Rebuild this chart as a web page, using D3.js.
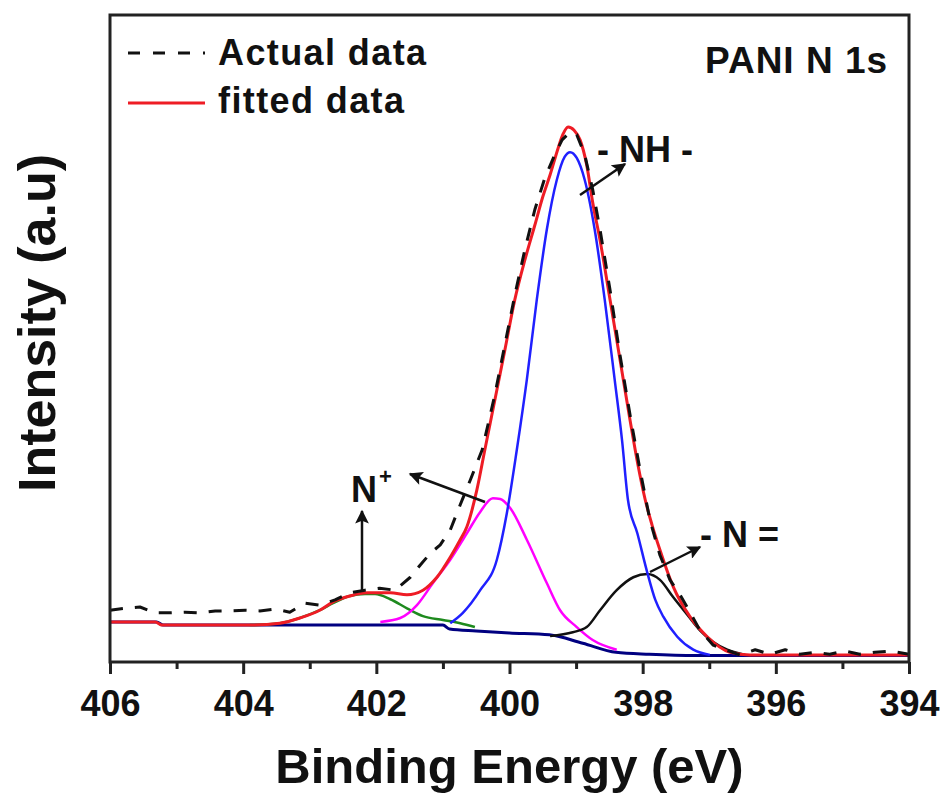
<!DOCTYPE html>
<html>
<head>
<meta charset="utf-8">
<script src="https://cdn.jsdelivr.net/npm/d3@7"></script>
<style>
  html, body { margin: 0; padding: 0; background: #fff; }
  text { font-family: "Liberation Sans", Arial, sans-serif; font-weight: bold; fill: #111; }
</style>
</head>
<body>
<svg id="chart" width="946" height="797"></svg>
<script>
// -------------------- DATA -------------------- //
// binding energy (eV) / intensity (a.u.) for each trace
const actualEV = [406.0, 405.77, 405.55, 405.32, 405.1, 404.87, 404.65, 404.42, 404.2, 403.97, 403.75, 403.52, 403.3, 403.07, 402.85, 402.62, 402.4, 402.17, 401.95, 401.72, 401.49, 401.34, 401.19, 401.04, 400.89, 400.74, 400.59, 400.41, 400.22, 400.07, 399.92, 399.77, 399.62, 399.47, 399.32, 399.21, 399.09, 398.99, 398.87, 398.75, 398.64, 398.49, 398.34, 398.19, 398.04, 397.89, 397.74, 397.59, 397.44, 397.29, 397.14, 396.94, 396.76, 396.54, 396.31, 396.09, 395.86, 395.64, 395.41, 395.19, 394.96, 394.74, 394.51, 394.28, 394.0];
const actualI = [8.0, 8.3, 8.5, 7.6, 7.6, 7.7, 7.6, 7.9, 7.9, 8.0, 7.9, 8.2, 7.7, 9.1, 8.8, 9.6, 10.7, 11.1, 11.4, 11.1, 13.1, 15.0, 16.8, 18.1, 20.4, 24.3, 28.1, 32.8, 41.3, 49.0, 56.7, 63.7, 69.9, 74.8, 78.4, 80.7, 81.9, 81.5, 78.4, 73.0, 66.8, 57.5, 47.4, 38.2, 29.7, 21.9, 16.5, 12.7, 10.4, 7.7, 4.9, 2.6, 1.9, 1.1, 1.9, 1.2, 1.9, 1.2, 1.5, 1.2, 1.7, 1.2, 1.5, 1.7, 1.2];

const fitEV = [406.0, 405.32, 405.22, 403.97, 403.45, 403.15, 402.85, 402.65, 402.4, 402.14, 401.79, 401.54, 401.3, 401.09, 400.89, 400.74, 400.64, 400.49, 400.37, 400.22, 400.07, 399.92, 399.77, 399.62, 399.5, 399.39, 399.27, 399.2, 399.12, 399.03, 398.94, 398.84, 398.75, 398.64, 398.49, 398.34, 398.19, 398.07, 397.96, 397.86, 397.74, 397.54, 397.29, 397.03, 396.69, 396.39, 394.0];
const fitI = [6.2, 6.2, 5.7, 5.7, 6.0, 6.8, 8.0, 9.3, 10.2, 10.7, 10.7, 10.4, 11.1, 13.1, 16.2, 18.9, 20.9, 26.6, 32.8, 40.5, 48.2, 56.0, 62.1, 67.5, 71.9, 75.3, 79.4, 81.5, 82.7, 82.2, 80.7, 76.8, 71.0, 65.2, 56.0, 46.7, 37.4, 30.4, 25.0, 21.2, 17.3, 11.6, 7.0, 3.9, 1.5, 1.1, 1.1];

// -NH- component
const nhEV = [400.89, 400.7, 400.44, 400.19, 400.04, 399.89, 399.74, 399.59, 399.44, 399.29, 399.17, 399.09, 398.99, 398.87, 398.72, 398.57, 398.42, 398.31, 398.22, 398.08, 397.93, 397.81, 397.69, 397.48, 397.24, 396.99];
const nhI = [6.0, 7.6, 11.1, 15.8, 23.0, 32.8, 43.6, 56.0, 66.8, 74.5, 78.1, 78.8, 77.9, 74.5, 66.8, 56.0, 43.6, 34.3, 25.0, 19.9, 13.8, 9.6, 7.0, 3.9, 1.9, 1.1];

// N+ component (400.2 eV)
const nPlusEV = [401.94, 401.64, 401.39, 401.15, 400.89, 400.64, 400.44, 400.25, 400.14, 399.99, 399.74, 399.44, 399.24, 398.99, 398.75, 398.39];
const nPlusI = [6.2, 6.8, 8.8, 12.2, 15.8, 19.9, 23.2, 25.3, 25.2, 23.8, 18.9, 12.2, 8.0, 5.4, 3.4, 1.9];

// N+ component (402 eV)
const nPlus2EV = [403.9, 403.45, 403.15, 402.85, 402.65, 402.4, 402.17, 402.02, 401.79, 401.54, 401.3, 401.0, 400.74, 400.52];
const nPlus2I = [5.7, 6.0, 6.8, 8.0, 9.1, 10.2, 10.5, 10.5, 9.7, 8.3, 7.1, 6.5, 6.0, 5.4];

// -N= component
const nEqEV = [399.39, 399.05, 398.84, 398.64, 398.39, 398.14, 397.93, 397.74, 397.54, 397.33, 397.14, 396.94, 396.73, 396.46];
const nEqI = [4.0, 4.6, 5.4, 8.0, 11.1, 13.1, 13.6, 12.7, 10.0, 7.3, 4.9, 3.1, 1.9, 1.1];

// background
const bgEV = [406.0, 405.3, 405.2, 401.0, 400.9, 400.5, 400.0, 399.4, 398.9, 398.4, 397.9, 397.2, 394.0];
const bgI = [6.2, 6.2, 5.7, 5.7, 5.1, 4.8, 4.5, 4.2, 2.9, 1.5, 1.2, 1.0, 1.0];

const majorTicks = [406, 404, 402, 400, 398, 396, 394];
const minorTicks = [405, 403, 401, 399, 397, 395];

// -------------------- SETUP -------------------- //
const svg = d3.select("#chart");
const plotLeft = 110, plotRight = 909, plotTop = 15, plotBottom = 662;

const x = d3.scaleLinear().domain([406, 394]).range([plotLeft, plotRight]);
const y = d3.scaleLinear().domain([0, 100]).range([plotBottom, plotTop]);

const defs = svg.append("defs");
defs.append("marker")
    .attr("id", "head")
    .attr("viewBox", "0 0 10 10")
    .attr("refX", 9).attr("refY", 5)
    .attr("markerWidth", 6).attr("markerHeight", 5.5)
    .attr("markerUnits", "strokeWidth")
    .attr("orient", "auto")
    .append("path").attr("d", "M0,0 L10,5 L0,10 L2,5 z").attr("fill", "#111");

// -------------------- TRACES -------------------- //
function trace(evs, vals, color, width, dash) {
    const pts = evs.map((e, i) => [e, vals[i]]);
    const line = d3.line()
        .x(d => x(d[0]))
        .y(d => y(d[1]))
        .curve(dash ? d3.curveLinear : d3.curveMonotoneX);
    svg.append("path")
        .datum(pts)
        .attr("d", line)
        .attr("fill", "none")
        .attr("stroke", color)
        .attr("stroke-width", width)
        .attr("stroke-linejoin", "round")
        .attr("stroke-dasharray", dash || null);
}

trace(bgEV, bgI, "#000080", 3);
trace(nPlus2EV, nPlus2I, "#1e8a1e", 2.5);
trace(nPlusEV, nPlusI, "#ff00ff", 2.5);
trace(nEqEV, nEqI, "#111", 2.5);
trace(nhEV, nhI, "#2020ff", 2.5);
trace(fitEV, fitI, "#ee1c25", 3);
trace(actualEV, actualI, "#111", 3, "13,12");

// -------------------- FRAME & AXIS -------------------- //
svg.append("rect")
    .attr("x", plotLeft).attr("y", plotTop)
    .attr("width", plotRight - plotLeft).attr("height", plotBottom - plotTop)
    .attr("fill", "none").attr("stroke", "#222").attr("stroke-width", 3);

const xAxis = svg.append("g")
    .attr("transform", `translate(0,${plotBottom})`)
    .call(d3.axisBottom(x).tickValues(majorTicks).tickSize(12).tickPadding(16).tickFormat(d3.format("d")));
xAxis.select(".domain").remove();
xAxis.selectAll(".tick line").attr("stroke", "#222").attr("stroke-width", 3);
xAxis.selectAll(".tick text")
    .attr("font-size", 36)
    .attr("font-family", "Liberation Sans, Arial, sans-serif")
    .attr("font-weight", "bold")
    .attr("fill", "#111");

const xMinor = svg.append("g")
    .attr("transform", `translate(0,${plotBottom})`)
    .call(d3.axisBottom(x).tickValues(minorTicks).tickSize(7).tickFormat(""));
xMinor.select(".domain").remove();
xMinor.selectAll(".tick line").attr("stroke", "#222").attr("stroke-width", 3);

svg.append("text")
    .attr("x", (plotLeft + plotRight) / 2).attr("y", 783)
    .attr("text-anchor", "middle")
    .attr("font-size", 49)
    .text("Binding Energy (eV)");

svg.append("text")
    .attr("transform", "translate(55,323) rotate(-90)")
    .attr("text-anchor", "middle")
    .attr("font-size", 52)
    .text("Intensity (a.u)");

// -------------------- LEGEND -------------------- //
svg.append("line")
    .attr("x1", 128).attr("x2", 205).attr("y1", 53).attr("y2", 53)
    .attr("stroke", "#111").attr("stroke-width", 3).attr("stroke-dasharray", "12,13");
svg.append("text").attr("x", 218).attr("y", 65).attr("font-size", 36)
    .attr("letter-spacing", 1.4).text("Actual data");
svg.append("line")
    .attr("x1", 128).attr("x2", 205).attr("y1", 103).attr("y2", 103)
    .attr("stroke", "#ee1c25").attr("stroke-width", 3);
svg.append("text").attr("x", 218).attr("y", 113).attr("font-size", 36)
    .attr("letter-spacing", 1.4).text("fitted data");

svg.append("text").attr("x", 705).attr("y", 73).attr("font-size", 37)
    .attr("letter-spacing", 1).text("PANI N 1s");

// -------------------- ANNOTATIONS -------------------- //
function arrow(x1, y1, x2, y2) {
    svg.append("line")
        .attr("x1", x1).attr("y1", y1).attr("x2", x2).attr("y2", y2)
        .attr("stroke", "#111").attr("stroke-width", 2.5)
        .attr("marker-end", "url(#head)");
}

svg.append("text").attr("x", 597).attr("y", 162).attr("font-size", 36)
    .attr("xml:space", "preserve").text("- NH -");
arrow(580, 195, 625, 164);

svg.append("text").attr("x", 700).attr("y", 547).attr("font-size", 36)
    .attr("xml:space", "preserve").text("- N =");
arrow(650, 572, 700, 547);

svg.append("text").attr("x", 351).attr("y", 502).attr("font-size", 36).text("N");
svg.append("text").attr("x", 379).attr("y", 484).attr("font-size", 22).text("+");
arrow(362, 590, 362, 511);
arrow(485, 502, 410, 474);
</script>
</body>
</html>
